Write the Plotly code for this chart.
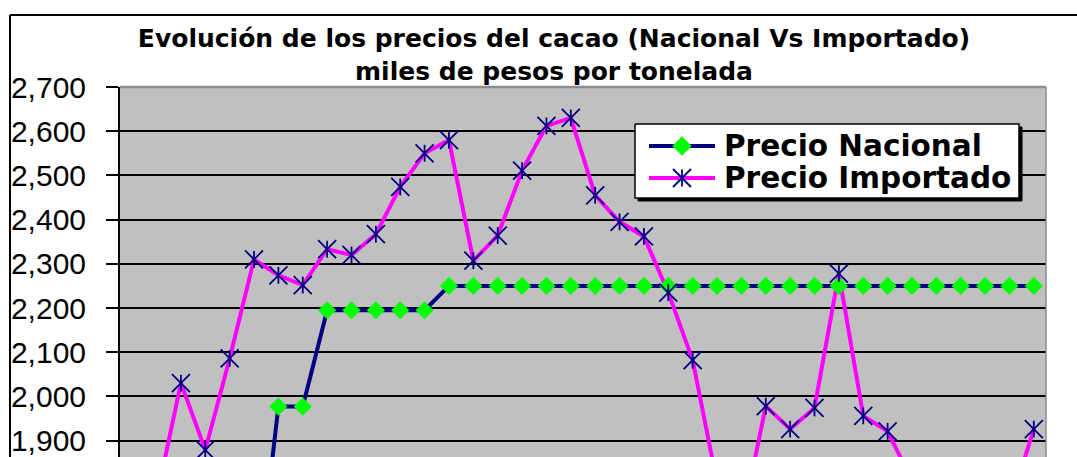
import plotly.graph_objects as go

# Periods (category axis, labels not shown in this view)
periodos = list(range(1, 39))

# Prices in thousands of pesos per tonne
precio_nacional = [None, None, None, None, None,
                   1500, 1977, 1977, 2195, 2195, 2195, 2195, 2195,
                   2250, 2250, 2250, 2250, 2250, 2250, 2250, 2250, 2250, 2250,
                   2250, 2250, 2250, 2250, 2250, 2250, 2250, 2250, 2250, 2250,
                   2250, 2250, 2250, 2250, 2250]
precio_importado = [None, 1770, 2030, 1879, 2086, 2310, 2274, 2252, 2333, 2320,
                    2367, 2474, 2550, 2580, 2307, 2364, 2511, 2612, 2630, 2455,
                    2395, 2362, 2235, 2082, 1805, 1710, 1978, 1926, 1974, 2278,
                    1956, 1921, 1810, 1780, 1760, 1745, 1750, 1926]

y_ticks = [1900, 2000, 2100, 2200, 2300, 2400, 2500, 2600, 2700]
y_range = [1863, 2700]

titulo = "Evolución de los precios del cacao (Nacional Vs Importado)<br>miles de pesos por tonelada"
nombres = ["Precio Nacional", "Precio Importado"]

NAVY = "#000080"
MAGENTA = "#FF00FF"
GREEN = "#00FF00"
W, H = 1077, 457
L, R, T, B = 120, 31, 87, 0

fig = go.Figure()

# lines first, then markers on top
fig.add_trace(go.Scatter(x=periodos, y=precio_nacional, mode="lines",
                         line=dict(color=NAVY, width=4), showlegend=False))
fig.add_trace(go.Scatter(x=periodos, y=precio_importado, mode="lines",
                         line=dict(color=MAGENTA, width=4), showlegend=False))
fig.add_trace(go.Scatter(x=periodos, y=precio_nacional, mode="markers",
                         marker=dict(symbol="diamond", size=14, color=GREEN,
                                     line=dict(width=0)), showlegend=False))
# star marker = X plus a vertical stroke
star_parts = [("x-thin-open", 18), ("line-ns-open", 12)]
for sym, sz in star_parts:
    fig.add_trace(go.Scatter(x=periodos, y=precio_importado, mode="markers",
                             marker=dict(symbol=sym, size=sz, color=NAVY,
                                         line=dict(color=NAVY, width=1.8)),
                             showlegend=False))

# legend box drawn on a pixel-mapped overlay
def box(x0, y0, x1, y1):
    return [x0, x1, x1, x0, x0], [y0, y0, y1, y1, y0]

bx, by = box(638, 127, 1022, 201)
fig.add_trace(go.Scatter(x=bx, y=by, xaxis="x2", yaxis="y2", mode="lines",
                         fill="toself", fillcolor="black",
                         line=dict(color="black", width=1), showlegend=False))
bx, by = box(635, 124, 1019, 198)
fig.add_trace(go.Scatter(x=bx, y=by, xaxis="x2", yaxis="y2", mode="lines",
                         fill="toself", fillcolor="white",
                         line=dict(color="black", width=1.5), showlegend=False))
rows_y = [146, 178]
fig.add_trace(go.Scatter(x=[649, 715], y=[rows_y[0]] * 2, xaxis="x2", yaxis="y2",
                         mode="lines", line=dict(color=NAVY, width=4), showlegend=False))
fig.add_trace(go.Scatter(x=[649, 715], y=[rows_y[1]] * 2, xaxis="x2", yaxis="y2",
                         mode="lines", line=dict(color=MAGENTA, width=4), showlegend=False))
fig.add_trace(go.Scatter(x=[682], y=[rows_y[0]], xaxis="x2", yaxis="y2", mode="markers",
                         marker=dict(symbol="diamond", size=15, color=GREEN), showlegend=False))
for sym, sz in star_parts:
    fig.add_trace(go.Scatter(x=[682], y=[rows_y[1]], xaxis="x2", yaxis="y2", mode="markers",
                             marker=dict(symbol=sym, size=sz, color=NAVY,
                                         line=dict(color=NAVY, width=1.8)),
                             showlegend=False))
for name, yy in zip(nombres, rows_y):
    fig.add_annotation(x=722, y=yy, xref="x2", yref="y2", text=name, showarrow=False,
                       xanchor="left", yanchor="middle",
                       font=dict(family="DejaVu Sans", size=29.5, color="black", weight="bold"))

def px_x(p):
    return (p - L) / (W - L - R)

def px_y(p):
    return (H - B - p) / (H - T - B)

shapes = [
    # plot-area border (top and right)
    dict(type="line", xref="paper", yref="paper", x0=0, x1=1, y0=1, y1=1,
         line=dict(color="#8C8C8C", width=2.5), layer="above"),
    dict(type="line", xref="paper", yref="paper", x0=1, x1=1, y0=0, y1=1,
         line=dict(color="#8C8C8C", width=1.5), layer="above"),
    # chart-area frame
    dict(type="line", xref="paper", yref="paper", x0=px_x(10), x1=px_x(1080),
         y0=px_y(15), y1=px_y(15), line=dict(color="black", width=2)),
    dict(type="line", xref="paper", yref="paper", x0=px_x(10), x1=px_x(10),
         y0=px_y(15), y1=px_y(460), line=dict(color="black", width=2)),
]

fig.update_layout(
    width=W, height=H,
    margin=dict(l=L, r=R, t=T, b=B),
    paper_bgcolor="white",
    plot_bgcolor="#C0C0C0",
    showlegend=False,
    title=dict(text=titulo, x=554 / W, xref="container", xanchor="center",
               y=1 - 47 / H, yref="container", yanchor="middle",
               font=dict(family="DejaVu Sans", size=25, color="black", weight="bold")),
    xaxis=dict(range=[0.5, 38.5], showticklabels=False, showgrid=False,
               zeroline=False, showline=False, ticks=""),
    yaxis=dict(range=y_range, tickvals=y_ticks, tickformat=",d",
               showgrid=True, gridcolor="black", gridwidth=2,
               zeroline=False, showline=True, linecolor="black", linewidth=2,
               ticks="outside", ticklen=12, tickwidth=2, tickcolor="black",
               ticklabelstandoff=14, ticklabeloverflow="allow",
               tickfont=dict(family="Liberation Sans", size=30, color="black")),
    xaxis2=dict(overlaying="x", range=[L, W - R], visible=False),
    yaxis2=dict(overlaying="y", range=[H - B, T], visible=False),
    shapes=shapes,
)

fig.write_html("out.html")
